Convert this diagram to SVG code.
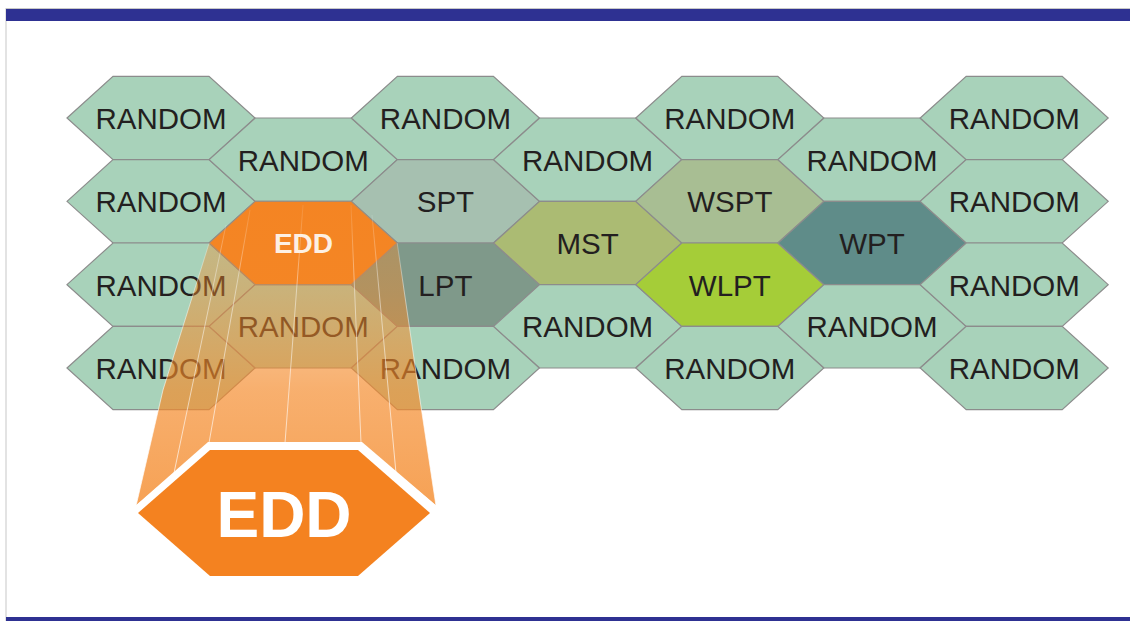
<svg xmlns="http://www.w3.org/2000/svg" xmlns:xlink="http://www.w3.org/1999/xlink" width="1130" height="621" viewBox="0 0 1130 621">
<style>
  .hx { stroke: #8c8c8c; stroke-width: 1.2; }
  .rnd { fill: #a8d2ba; }
  .spt { fill: #a6c0b0; }
  .lpt { fill: #7f998a; }
  .mst { fill: #abbb73; }
  .wspt { fill: #a8be93; }
  .wlpt { fill: #a5cd38; }
  .wpt { fill: #5f8c89; }
  .edd { fill: #f48220; }
  .lbl { font-family: "Liberation Sans", Arial, sans-serif; font-size: 29.5px; fill: #231f20; text-anchor: middle; }
  .facet { stroke: url(#facetGrad); stroke-width: 0.9; fill: none; }
</style>
<defs>
  <polygon id="hex" points="-94,0 -48,-41.67 48,-41.67 94,0 48,41.67 -48,41.67"/>
  <linearGradient id="beamGrad" gradientUnits="userSpaceOnUse" x1="0" y1="201" x2="0" y2="506">
    <stop offset="0" stop-color="#f48a2a" stop-opacity="0.3"/>
    <stop offset="0.3" stop-color="#f48a2a" stop-opacity="0.45"/>
    <stop offset="0.62" stop-color="#f48a2a" stop-opacity="0.68"/>
    <stop offset="1" stop-color="#f48a2a" stop-opacity="0.8"/>
  </linearGradient>
  <linearGradient id="facetGrad" gradientUnits="userSpaceOnUse" x1="0" y1="205" x2="0" y2="480">
    <stop offset="0" stop-color="#ffffff" stop-opacity="0.1"/>
    <stop offset="0.3" stop-color="#ffffff" stop-opacity="0.5"/>
    <stop offset="1" stop-color="#ffffff" stop-opacity="0.75"/>
  </linearGradient>
</defs>

<!-- frame -->
<rect x="6" y="8.5" width="1130" height="620" fill="#ffffff" stroke="#c8c8c8" stroke-width="1"/>
<rect x="6" y="9" width="1124" height="12" fill="#2e3192"/>
<rect x="6" y="617" width="1124" height="4" fill="#2e3192"/>

<!-- column 0 -->
<g id="n-c0r0" transform="translate(161,118)"><use xlink:href="#hex" class="hx rnd"/><text class="lbl" y="11">RANDOM</text></g>
<g id="n-c0r1" transform="translate(161,201.33)"><use xlink:href="#hex" class="hx rnd"/><text class="lbl" y="11">RANDOM</text></g>
<g id="n-c0r2" transform="translate(161,284.67)"><use xlink:href="#hex" class="hx rnd"/><text class="lbl" y="11">RANDOM</text></g>
<g id="n-c0r3" transform="translate(161,368)"><use xlink:href="#hex" class="hx rnd"/><text class="lbl" y="11">RANDOM</text></g>
<!-- column 1 -->
<g id="n-c1r0" transform="translate(303.2,159.67)"><use xlink:href="#hex" class="hx rnd"/><text class="lbl" y="11">RANDOM</text></g>
<g id="n-c1r2" transform="translate(303.2,326.33)"><use xlink:href="#hex" class="hx rnd"/><text class="lbl" y="11">RANDOM</text></g>
<!-- column 2 -->
<g id="n-c2r0" transform="translate(445.4,118)"><use xlink:href="#hex" class="hx rnd"/><text class="lbl" y="11">RANDOM</text></g>
<g id="n-spt" transform="translate(445.4,201.33)"><use xlink:href="#hex" class="hx spt"/><text class="lbl" y="11">SPT</text></g>
<g id="n-lpt" transform="translate(445.4,284.67)"><use xlink:href="#hex" class="hx lpt"/><text class="lbl" y="11">LPT</text></g>
<g id="n-c2r3" transform="translate(445.4,368)"><use xlink:href="#hex" class="hx rnd"/><text class="lbl" y="11">RANDOM</text></g>
<!-- column 3 -->
<g id="n-c3r0" transform="translate(587.6,159.67)"><use xlink:href="#hex" class="hx rnd"/><text class="lbl" y="11">RANDOM</text></g>
<g id="n-mst" transform="translate(587.6,243)"><use xlink:href="#hex" class="hx mst"/><text class="lbl" y="11">MST</text></g>
<g id="n-c3r2" transform="translate(587.6,326.33)"><use xlink:href="#hex" class="hx rnd"/><text class="lbl" y="11">RANDOM</text></g>
<!-- column 4 -->
<g id="n-c4r0" transform="translate(729.8,118)"><use xlink:href="#hex" class="hx rnd"/><text class="lbl" y="11">RANDOM</text></g>
<g id="n-wspt" transform="translate(729.8,201.33)"><use xlink:href="#hex" class="hx wspt"/><text class="lbl" y="11">WSPT</text></g>
<g id="n-wlpt" transform="translate(729.8,284.67)"><use xlink:href="#hex" class="hx wlpt"/><text class="lbl" y="11">WLPT</text></g>
<g id="n-c4r3" transform="translate(729.8,368)"><use xlink:href="#hex" class="hx rnd"/><text class="lbl" y="11">RANDOM</text></g>
<!-- column 5 -->
<g id="n-c5r0" transform="translate(872,159.67)"><use xlink:href="#hex" class="hx rnd"/><text class="lbl" y="11">RANDOM</text></g>
<g id="n-wpt" transform="translate(872,243)"><use xlink:href="#hex" class="hx wpt"/><text class="lbl" y="11">WPT</text></g>
<g id="n-c5r2" transform="translate(872,326.33)"><use xlink:href="#hex" class="hx rnd"/><text class="lbl" y="11">RANDOM</text></g>
<!-- column 6 -->
<g id="n-c6r0" transform="translate(1014.2,118)"><use xlink:href="#hex" class="hx rnd"/><text class="lbl" y="11">RANDOM</text></g>
<g id="n-c6r1" transform="translate(1014.2,201.33)"><use xlink:href="#hex" class="hx rnd"/><text class="lbl" y="11">RANDOM</text></g>
<g id="n-c6r2" transform="translate(1014.2,284.67)"><use xlink:href="#hex" class="hx rnd"/><text class="lbl" y="11">RANDOM</text></g>
<g id="n-c6r3" transform="translate(1014.2,368)"><use xlink:href="#hex" class="hx rnd"/><text class="lbl" y="11">RANDOM</text></g>

<!-- small EDD hex -->
<g id="n-edd" transform="translate(303.2,243)"><use xlink:href="#hex" class="hx edd"/></g>

<!-- connectors (none in this picture) -->
<g id="connectors"></g>

<!-- zoom beam -->
<g id="beam">
  <path d="M209.2,243 L255.2,201.3 L351.2,201.3 L397.2,243 L420,400 L436,506 L361,443 L209,443 L136,506 L163,390 Z" fill="url(#beamGrad)"/>
  <path class="facet" d="M209.2,243 L163,390 L136,506"/>
  <path class="facet" d="M397.2,243 L420,400 L436,506"/>
  <line class="facet" x1="226" y1="225" x2="174" y2="473"/>
  <line class="facet" x1="250" y1="210" x2="209" y2="443"/>
  <line class="facet" x1="303" y1="205" x2="285" y2="443"/>
  <line class="facet" x1="351" y1="205" x2="361" y2="443"/>
  <line class="facet" x1="372" y1="215" x2="396" y2="473"/>
  <path d="M136,506 L209,443 L361,443 L436,506" fill="none" stroke="#e8e8e8" stroke-width="1"/>
</g>
<text x="303.5" y="253" font-family="'Liberation Sans', Arial, sans-serif" font-size="28" font-weight="bold" fill="#fdf0e4" text-anchor="middle">EDD</text>

<!-- large EDD hex -->
<g id="n-edd-large">
  <polygon points="134,507 208,442 362,442 438,507 430,516 138,516" fill="#ffffff"/>
  <polygon points="138,513 210,450 358,450 430,513 358,576 210,576" fill="#f48220"/>
  <text x="284" y="537" font-family="'Liberation Sans', Arial, sans-serif" font-size="64" font-weight="bold" fill="#ffffff" text-anchor="middle">EDD</text>
</g>
</svg>
